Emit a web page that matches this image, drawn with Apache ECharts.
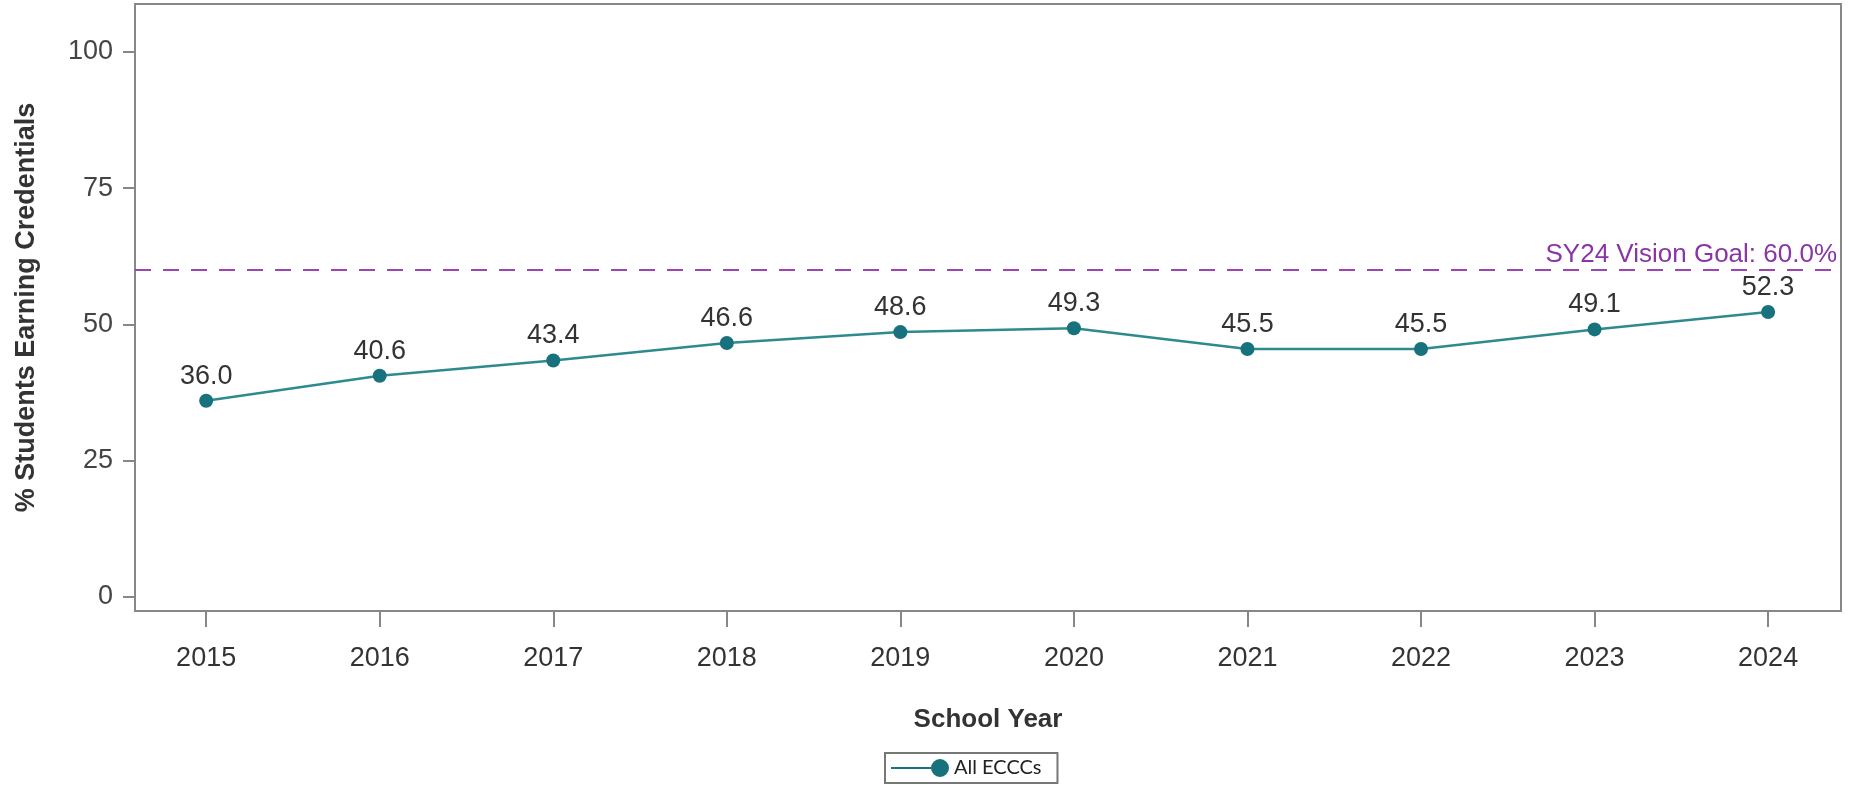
<!DOCTYPE html>
<html>
<head>
<meta charset="utf-8">
<script src="https://cdn.jsdelivr.net/npm/echarts@6/dist/echarts.min.js"></script>
<style>
html,body{margin:0;padding:0;background:#fff;}
#chart{width:1849px;height:789px;}
</style>
</head>
<body>
<div id="chart"></div>
<script>
const years = [2015, 2016, 2017, 2018, 2019, 2020, 2021, 2022, 2023, 2024];
const values = [36.0, 40.6, 43.4, 46.6, 48.6, 49.3, 45.5, 45.5, 49.1, 52.3];
const yTicks = [0, 25, 50, 75, 100];
const goalValue = 60.0;
const goalLabel = 'SY24 Vision Goal: 60.0%';
const seriesName = 'All ECCCs';

const chart = echarts.init(document.getElementById('chart'));
const font = 'Liberation Sans, Arial, sans-serif';
chart.setOption({
  animation: false,
  textStyle: {fontFamily: font},
  grid: {left: 135, right: 8, top: 4, bottom: 178, show: true, borderColor: '#878787', borderWidth: 2},
  xAxis: {
    type: 'value', min: 2014.59, max: 2024.42,
    name: 'School Year', nameLocation: 'middle', nameGap: 96,
    nameTextStyle: {fontSize: 26, fontWeight: 'bold', color: '#333', fontFamily: font},
    axisLine: {show: true, onZero: false, lineStyle: {color: '#878787', width: 2}},
    axisTick: {show: true, length: 16, lineStyle: {color: '#878787', width: 2}, customValues: years},
    axisLabel: {fontSize: 27, color: '#333', margin: 34, customValues: years, formatter: v => String(v)},
    splitLine: {show: false}
  },
  yAxis: {
    type: 'value', min: -2.57, max: 108.8,
    name: '% Students Earning Credentials', nameLocation: 'middle', nameGap: 95,
    nameTextStyle: {fontSize: 27, fontWeight: 'bold', color: '#333', fontFamily: font},
    axisLine: {show: true, lineStyle: {color: '#878787', width: 2}},
    axisTick: {show: true, length: 12, lineStyle: {color: '#878787', width: 2}, customValues: yTicks},
    axisLabel: {fontSize: 27, color: '#444', margin: 22, customValues: yTicks},
    splitLine: {show: false}
  },
  legend: {
    data: [seriesName], top: 753, left: 885,
    borderColor: '#777', borderWidth: 2, padding: [5, 16, 5, 6],
    itemWidth: 58, itemHeight: 18, itemGap: 6,
    icon: 'path://M0,8 L40,8 L40,10 L0,10 Z M40,9 a9,9 0 1,0 18,0 a9,9 0 1,0 -18,0 Z',
    itemStyle: {borderWidth: 0},
    textStyle: {fontSize: 20, color: '#222', fontFamily: 'Lato, Liberation Sans, sans-serif'}
  },
  series: [{
    name: seriesName, type: 'line',
    data: years.map((y, i) => [y, values[i]]),
    symbol: 'circle', symbolSize: 14,
    lineStyle: {color: '#2d8a8f', width: 2.5},
    itemStyle: {color: '#17727d'},
    label: {show: true, position: 'top', distance: 4, fontSize: 27, color: '#333', formatter: p => p.value[1].toFixed(1)},
    markLine: {
      silent: true, symbol: 'none',
      lineStyle: {color: '#9b45b5', width: 2, type: [16, 12]},
      label: {show: true, position: 'insideEndTop', formatter: goalLabel, color: '#8a35a6', fontSize: 26, distance: [4, 2]},
      data: [{yAxis: goalValue}]
    }
  }]
});
</script>
</body>
</html>
